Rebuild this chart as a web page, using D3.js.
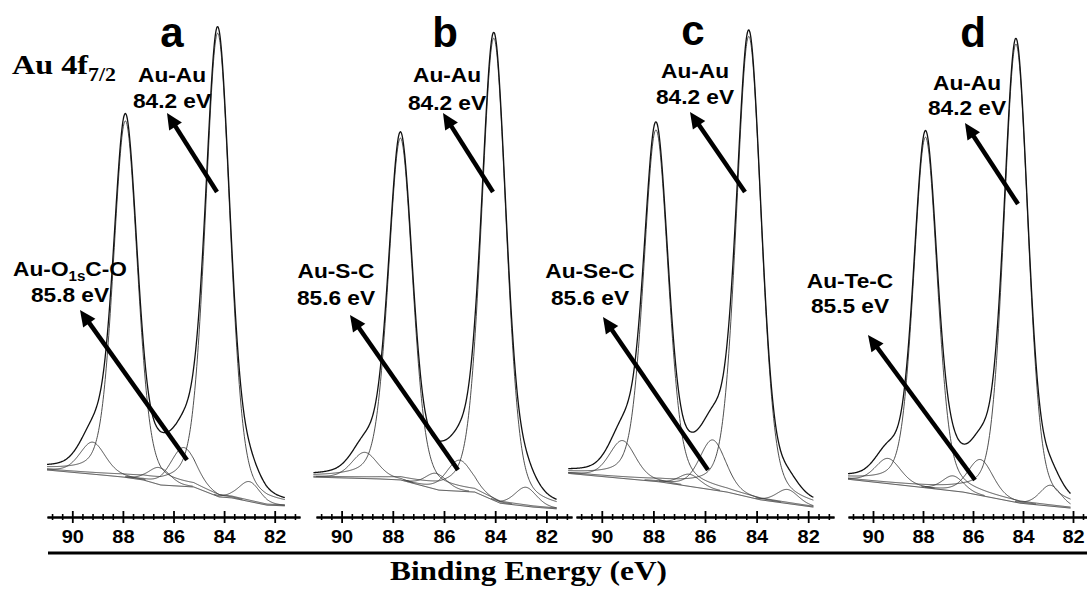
<!DOCTYPE html>
<html>
<head>
<meta charset="utf-8">
<script src="https://cdn.jsdelivr.net/npm/d3@7"></script>
<style>
  body { margin: 0; background: #fff; }
  svg { display: block; }
</style>
</head>
<body>
<div id="chart"></div>
<script>
// ---- data ----
var panelLetters = ["a", "b", "c", "d"];
var bondNames = ["Au-O|1s|C-O", "Au-S-C", "Au-Se-C", "Au-Te-C"];
var bondEnergies = [85.8, 85.6, 85.6, 85.5];
var auAuEnergy = 84.2;
var majorTicks = [90, 88, 86, 84, 82];

// fitted components per panel: Au 4f7/2, Au 4f5/2, then the small ones
var peakCenters = [
  [84.25, 87.9, 89.2, 86.55, 85.6, 83.0],
  [84.05, 87.7, 89.1, 86.3, 85.4, 82.8],
  [84.3, 87.9, 89.2, 86.6, 85.7, 82.8],
  [84.28, 87.9, 89.4, 86.8, 85.7, 82.9]
];
var peakHeights = [
  [95.5, 73.5, 6.6, 3.5, 8.0, 4.1],
  [95.3, 70.5, 5.4, 3.3, 6.4, 3.9],
  [95, 72.5, 7.8, 2.5, 10.3, 2.9],
  [94.5, 72.3, 5.2, 3.1, 7.4, 4.3]
];
var peakWidths = [
  [1.15, 1.12, 1.2, 1.0, 1.2, 1.0],
  [1.15, 1.12, 1.2, 1.0, 1.2, 1.0],
  [1.15, 1.12, 1.2, 1.0, 1.2, 1.0],
  [1.15, 1.12, 1.2, 1.0, 1.2, 1.0]
];
// background (Shirley-like) knots
var baselineE = [
  [91.0, 88.8, 88.0, 87.2, 86.5, 85.2, 84.2, 83.7, 82.3, 81.3],
  [91.2, 88.5, 87.7, 86.2, 84.8, 83.8, 82.5, 81.5],
  [91.4, 87.75, 85.15, 83.85, 81.8],
  [91.1, 88.1, 86.4, 84.1, 82.1, 81.5]
];
var baselineI = [
  [8.25, 7.2, 6.8, 6.2, 5.15, 4.75, 2.7, 2.5, 1.0, 0.8],
  [6.8, 6.4, 6.2, 4.1, 3.7, 1.4, 0.6, 0.2],
  [7.6, 5.8, 3.7, 2.1, 0.6],
  [6.4, 4.7, 3.7, 1.4, 0.4, 0.2]
];
var dataRange = [[91.0, 81.6], [91.1, 81.6], [91.3, 81.8], [91.0, 82.1]];

// ---- layout ----
var width = 1087, height = 590;
var panelRange = [[47, 300], [316, 572], [576, 834], [848, 1098]];
var axisY = 517;
var letterPos = [[172, 47], [445, 47], [693, 45], [973, 47]];
var auLabelPos = [[172, 82, 108], [447, 82, 110], [695, 78, 104], [967, 90, 115]];
var bondLabelPos = [[70, 276, 302], [336, 278, 305], [590, 278, 305], [850, 288, 313]];
var mainArrows = [[217, 192, 167, 113], [493, 192, 443, 113], [745, 192, 690, 112], [1018, 204, 965, 123]];
var bondArrows = [[187, 460, 80, 310], [458, 470, 350, 315], [708, 470, 603, 317], [975, 480, 868, 335]];

var svg = d3.select("#chart").append("svg")
  .attr("width", width)
  .attr("height", height);

var y = d3.scaleLinear().domain([0, 100]).range([510, 25]);

// pseudo-Voigt line shape
function pv(E, c, a, w) {
  var t = (E - c) / (w / 2);
  var eta = 0.3;
  return a * (eta / (1 + t * t) + (1 - eta) * Math.exp(-Math.LN2 * t * t));
}

var sans = "Liberation Sans, Arial, sans-serif";
var serif = "Liberation Serif, Times New Roman, serif";

panelLetters.forEach(function(letter, i) {
  var x = d3.scaleLinear().domain([91, 81]).range(panelRange[i]);
  var base = d3.scaleLinear().domain(baselineE[i]).range(baselineI[i]).clamp(true);
  var grid = d3.range(dataRange[i][0], dataRange[i][1] - 0.001, -0.02);
  var g = svg.append("g");

  var line = d3.line()
    .x(function(d) { return x(d[0]); })
    .y(function(d) { return y(d[1]); })
    .curve(d3.curveMonotoneX);

  // baseline
  g.append("path")
    .attr("d", line(grid.map(function(E) { return [E, base(E)]; })))
    .attr("fill", "none").attr("stroke", "#333").attr("stroke-width", 1);

  // components
  peakCenters[i].forEach(function(c, k) {
    var pts = grid.map(function(E) {
      return [E, base(E) + pv(E, c, peakHeights[i][k], peakWidths[i][k])];
    }).filter(function(d) { return d[1] - base(d[0]) > 0.15; });
    g.append("path")
      .attr("d", line(pts))
      .attr("fill", "none").attr("stroke", "#3a3a3a").attr("stroke-width", 0.9);
  });

  // envelope
  var env = grid.map(function(E) {
    var s = base(E);
    peakCenters[i].forEach(function(c, k) { s += pv(E, c, peakHeights[i][k], peakWidths[i][k]); });
    return [E, s];
  });
  g.append("path")
    .attr("d", line(env))
    .attr("fill", "none").attr("stroke", "#111").attr("stroke-width", 1.3);

  // axis
  var ax = g.append("g").attr("transform", "translate(0," + axisY + ")");
  var minors = d3.range(203, 228).filter(function(k) { return k % 5 !== 0; })
    .map(function(k) { return k * 0.4; });
  ax.call(d3.axisBottom(x).tickValues(minors).tickFormat("").tickSize(3).tickSizeOuter(0));
  ax.selectAll(".tick line").attr("y1", -3).attr("stroke-width", 1.6);
  var axMaj = g.append("g").attr("transform", "translate(0," + axisY + ")");
  axMaj.call(d3.axisBottom(x).tickValues(majorTicks).tickSize(6).tickSizeOuter(0));
  axMaj.selectAll(".tick line").attr("y1", -6).attr("stroke-width", 1.8);
  axMaj.select(".domain").attr("stroke-width", 2.2);
  ax.select(".domain").attr("stroke-width", 2.2);
  axMaj.selectAll(".tick text")
    .attr("y", 26).attr("dy", 0)
    .attr("transform", "scale(1.08,1)")
    .style("font-family", sans).style("font-weight", "bold").style("font-size", "18.5px")
    .attr("fill", "#000");

  // panel letter
  svg.append("text")
    .attr("x", letterPos[i][0]).attr("y", letterPos[i][1])
    .attr("text-anchor", "middle")
    .style("font-family", sans).style("font-weight", "bold").style("font-size", "42px")
    .text(letter);

  // Au-Au label
  var lab = svg.append("g").attr("transform", "translate(" + auLabelPos[i][0] + ",0) scale(1.08,1)");
  lab.append("text").attr("y", auLabelPos[i][1]).attr("text-anchor", "middle")
    .style("font-family", sans).style("font-weight", "bold").style("font-size", "21px")
    .text("Au-Au");
  lab.append("text").attr("y", auLabelPos[i][2]).attr("text-anchor", "middle")
    .style("font-family", sans).style("font-weight", "bold").style("font-size", "21px")
    .text(auAuEnergy.toFixed(1) + " eV");

  // bond label
  var bl = svg.append("g").attr("transform", "translate(" + bondLabelPos[i][0] + ",0) scale(1.08,1)");
  var t1 = bl.append("text").attr("y", bondLabelPos[i][1]).attr("text-anchor", "middle")
    .style("font-family", sans).style("font-weight", "bold").style("font-size", "21px");
  var parts = bondNames[i].split("|");
  parts.forEach(function(p, j) {
    var ts = t1.append("tspan").text(p);
    if (j === 1) ts.style("font-size", "14px").attr("dy", 5);
    if (j === 2) ts.attr("dy", -5);
  });
  bl.append("text").attr("y", bondLabelPos[i][2]).attr("text-anchor", "middle")
    .style("font-family", sans).style("font-weight", "bold").style("font-size", "21px")
    .text(bondEnergies[i].toFixed(1) + " eV");

  // arrows
  [mainArrows[i], bondArrows[i]].forEach(function(a) {
    var dx = a[2] - a[0], dy = a[3] - a[1];
    var len = Math.sqrt(dx * dx + dy * dy);
    var ux = dx / len, uy = dy / len;
    var hl = 16, hw = 7.5;
    var bx = a[2] - ux * hl, by = a[3] - uy * hl;
    svg.append("line")
      .attr("x1", a[0]).attr("y1", a[1]).attr("x2", bx + ux * 2).attr("y2", by + uy * 2)
      .attr("stroke", "#000").attr("stroke-width", 4.5);
    svg.append("polygon")
      .attr("points", [[a[2], a[3]], [bx - uy * hw, by + ux * hw], [bx + uy * hw, by - ux * hw]]
        .map(function(p) { return p.join(","); }).join(" "))
      .attr("fill", "#000");
  });
});

// bottom rule
svg.append("line")
  .attr("x1", 48).attr("x2", width).attr("y1", 553).attr("y2", 553)
  .attr("stroke", "#000").attr("stroke-width", 3);

// axis title
svg.append("text")
  .attr("x", 390).attr("y", 580)
  .attr("textLength", 277).attr("lengthAdjust", "spacingAndGlyphs")
  .style("font-family", serif).style("font-weight", "bold").style("font-size", "27px")
  .text("Binding Energy (eV)");

// corner title
var tt = svg.append("text").attr("transform", "translate(12,74) scale(1.15,1)")
  .style("font-family", serif).style("font-weight", "bold").style("font-size", "28px");
tt.append("tspan").text("Au 4f");
tt.append("tspan").text("7/2").style("font-size", "19px").attr("dy", 7);
</script>
</body>
</html>
